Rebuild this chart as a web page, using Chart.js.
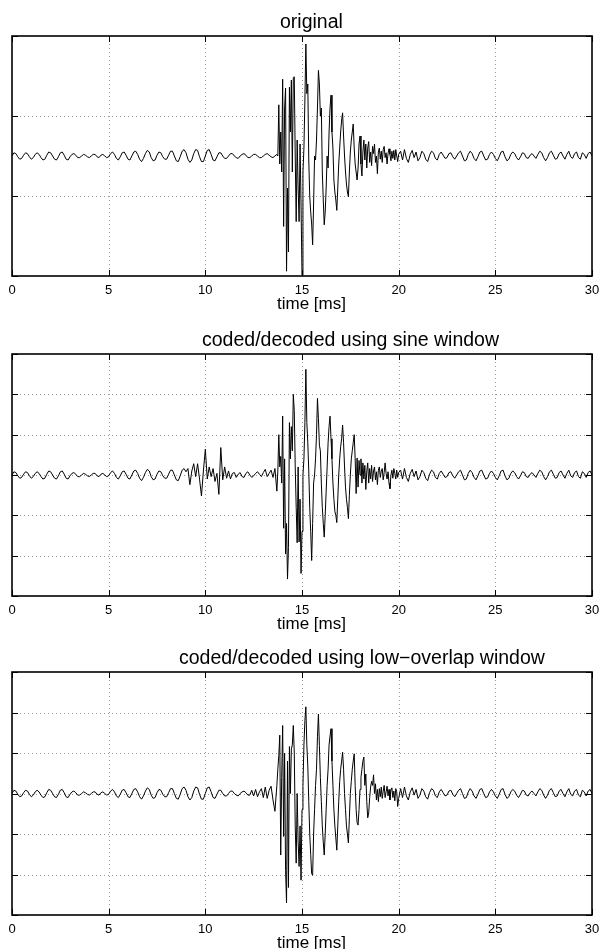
<!DOCTYPE html>
<html>
<head>
<meta charset="utf-8">
<script src="https://cdn.jsdelivr.net/npm/chart.js@4.4.0/dist/chart.umd.min.js"></script>
<style>
  body { margin: 0; background: #fff; }
  canvas { position: absolute; left: 0; }
</style>
</head>
<body>
<canvas id="c1" width="600" height="318" style="top:0px"></canvas>
<canvas id="c2" width="600" height="318" style="top:318px"></canvas>
<canvas id="c3" width="600" height="313" style="top:636px"></canvas>
<script>
/******************** data (time in ms, amplitude in arbitrary units) ********************/

var xTicks = [0, 5, 10, 15, 20, 25, 30];

// 0.0 .. 8.9 ms, step 0.1 (same in all three signals)
var headQuiet = [
  0, 4, 3, -1, -4, -3, 1, 4, 3, -1,
  -4, -2, 2, 4, 2, -2, -5, -4, 1, 5,
  4, 0, -4, -5, -1, 4, 5, 1, -4, -5,
  -1, 2, 3, 1, -2, -2, 0, 2, 1, -1,
  -2, 0, 2, 2, -1, -2, 1, 2, 0, -2,
  -1, 3, 5, 2, -3, -5, -1, 4, 5, 1,
  -4, -5, 0, 5, 6, 2, -4, -7, -3, 3,
  7, 5, -2, -6, -5, 1, 5, 4, -1, -4,
  -4, 1, 6, 6, 0, -6, -7, -1, 6, 8
];

// 9.0 .. 13.7 ms, step 0.1
var origMid = [
  4, -4, -8, -5, 3, 8, 7, -1, -7, -7,
  0, 7, 8, 2, -5, -6, -1, 4, 4, 0,
  -3, -3, 0, 3, 3, 0, -2, -3, 0, 2,
  3, 1, -2, -2, 0, 2, 2, 0, -2, -2,
  0, 2, 3, 1, -1, -2, 0, 2
];
var sineMid = [
  4, 8, -12, 5, 14, -2, 14, -5, -26, 5,
  32, -5, 10, -2, 8, -8, 2, -24, 34, -6,
  10, -4, 5, -5, 2, 3, -3, 1, 3, -2,
  -3, 2, 4, 0, -3, -1, 2, 4, 1, -2,
  3, 7, -2, 2, 6, -3, 8, -20
];
var lowMid = [
  4, -4, -8, -5, 3, 8, 7, -1, -7, -7,
  0, 7, 8, 2, -5, -6, -1, 4, 4, 0,
  -3, -3, 0, 3, 3, 0, -2, -3, 0, 2,
  3, 1, -2, -2, 4, -3, 5, -4, 2, 6,
  -5, 8, -6, 4, 9, -8, -22, 10
];

// 13.75 .. 20.00 ms, step 0.05
var origBurst = [
  0, 64, -10, 30, -20, 96, -88, 60, 85, -144,
  -40, -120, 86, 30, 95, -20, 98, 99, 0, -82,
  20, -40, -82, 15, -60, -149, -20, 10, 70, 140,
  78, 90, -5, -50, -70, -85, -111, -60, 0, -5,
  20, 60, 107, 90, 50, 60, -20, -55, -86, -70,
  -40, 0, -15, 30, 60, 76, 30, 10, -30, -45,
  -55, -68, -40, -10, 10, 30, 45, 54, 25, 0,
  -20, -35, -45, -51, -20, 5, 20, 30, 40, 10,
  -10, -20, -30, -15, 15, 25, -10, -25, 5, 20,
  -5, 15, -15, 10, 18, -8, 5, -12, 12, 3,
  15, -8, 0, -22, 5, 10, -4, 6, -8, 8,
  12, -2, 4, -10, 3, 9, 2, -6, 6, -3,
  7, -5, 8, 0, -7, 2
];
var sineBurst = [
  5, 50, 10, 23, -10, 73, -66, 20, -98, -60,
  -129, -90, 65, 20, 60, 30, 100, 80, 10, -40,
  -84, 10, -83, -30, -122, -70, 0, 20, 65, 131,
  65, 40, 5, -40, -70, -106, -60, -10, 0, 20,
  50, 95, 70, 37, 30, -10, -40, -60, -77, -50,
  -20, 10, 40, 60, 73, 45, 20, -10, -30, -45,
  -50, -59, -30, 0, 20, 35, 45, 62, 40, 10,
  -15, -30, -40, -54, -25, 0, 20, 30, 40, 50,
  20, -23, 21, -15, 18, 0, 20, -10, 15, -5,
  12, -18, 5, 15, -10, 8, -5, 12, -8, 5,
  10, -6, 4, -12, 6, 10, -3, 5, 8, -6,
  3, 15, 2, -5, 4, -10, -17, 0, 6, -4,
  8, 2, -5, 6, -3, 3
];
var lowBurst = [
  30, 47, 72, -76, 20, 84, -53, 50, -95, -135,
  40, -116, 58, 0, 55, 60, 84, 50, -40, -86,
  0, -60, -90, -40, -107, -20, 10, 60, 90, 107,
  60, 34, -10, -50, -75, -99, -101, -50, -20, 10,
  30, 70, 98, 59, 20, -10, -40, -60, -76, -50,
  -20, 10, 30, 60, 71, 80, 40, 10, -20, -40,
  -55, -70, -40, -10, 15, 30, 40, 51, 30, 0,
  -20, -40, -50, -61, -30, 0, 15, 30, 40, 49,
  10, -20, -36, -39, -20, 5, 20, 30, 40, 45,
  10, 24, -10, -30, -24, -5, 8, 15, 10, 23,
  0, 12, -8, 5, -10, 6, -4, 8, -6, 3,
  10, -5, 2, 9, -3, 5, -8, 4, 7, -5,
  3, -9, 6, 2, -16, -6
];

// 20.1 .. 30.0 ms, step 0.1 (same in all three signals)
var tailQuiet = [
  6, -5, 8, -3, -8, 2, 7, -2, 5, -6,
  -2, 6, 3, -4, -7, 1, 6, 4, -3, -5,
  2, 5, 1, -3, -2, 3, 4, -1, -4, 0,
  4, 6, 0, -6, -5, 2, 6, 3, -3, -6,
  -1, 5, 6, 0, -5, -4, 2, 5, 2, -3,
  -6, -1, 5, 6, -1, -6, -4, 2, 5, 3,
  -2, -5, -1, 4, 3, -2, -3, 1, 3, 0,
  -3, 2, 6, 4, -2, -6, -2, 4, 6, 1,
  -4, -3, 3, 5, 0, -4, 2, 6, -1, -3,
  3, 5, -2, -4, 4, 2, -3, 3, 5, 0
];

/******************** helpers ********************/

var FONT = '"Liberation Sans", Arial, Helvetica, sans-serif';

// join segments [startTime, step, values] into {x, y} points
function series(segs) {
  var pts = [];
  segs.forEach(function (s) {
    s[2].forEach(function (v, i) {
      pts.push({ x: +(s[0] + i * s[1]).toFixed(3), y: v });
    });
  });
  return pts;
}

// matlab style frame: dotted grid, black box, inward ticks, title and xlabel
var matlabAxes = {
  id: 'matlabAxes',
  beforeDatasetsDraw: function (chart) {
    var ctx = chart.ctx, a = chart.chartArea, x = chart.scales.x, y = chart.scales.y;
    ctx.save();
    ctx.strokeStyle = '#9a9a9a';
    ctx.lineWidth = 1;
    ctx.setLineDash([1, 3]);
    ctx.beginPath();
    x.ticks.forEach(function (t) {
      if (t.value <= x.min || t.value >= x.max) return;
      var px = Math.round(x.getPixelForValue(t.value)) + 0.5;
      ctx.moveTo(px, a.top); ctx.lineTo(px, a.bottom);
    });
    y.ticks.forEach(function (t) {
      if (t.value <= y.min || t.value >= y.max) return;
      var py = Math.round(y.getPixelForValue(t.value)) + 0.5;
      ctx.moveTo(a.left, py); ctx.lineTo(a.right, py);
    });
    ctx.stroke();
    ctx.restore();
  },
  afterDatasetsDraw: function (chart) {
    var ctx = chart.ctx, a = chart.chartArea, x = chart.scales.x, y = chart.scales.y;
    var tl = 6;
    ctx.save();
    ctx.strokeStyle = '#000';
    ctx.lineWidth = 1;
    ctx.beginPath();
    x.ticks.forEach(function (t) {
      var px = Math.round(x.getPixelForValue(t.value)) + 0.5;
      ctx.moveTo(px, a.bottom); ctx.lineTo(px, a.bottom - tl);
      ctx.moveTo(px, a.top); ctx.lineTo(px, a.top + tl);
    });
    y.ticks.forEach(function (t) {
      var py = Math.round(y.getPixelForValue(t.value)) + 0.5;
      ctx.moveTo(a.left, py); ctx.lineTo(a.left + tl, py);
      ctx.moveTo(a.right, py); ctx.lineTo(a.right - tl, py);
    });
    ctx.stroke();
    ctx.lineWidth = 1.6;
    ctx.strokeRect(a.left, a.top, a.right - a.left, a.bottom - a.top);
    ctx.restore();
  },
  afterDraw: function (chart, args, o) {
    var ctx = chart.ctx, a = chart.chartArea;
    ctx.save();
    ctx.fillStyle = '#000';
    ctx.textAlign = 'left';
    ctx.textBaseline = 'alphabetic';
    ctx.font = '19.5px ' + FONT;
    ctx.fillText(o.title, o.titleX, a.top - 8);
    ctx.font = '17px ' + FONT;
    ctx.fillText('time [ms]', 277, a.bottom + 33);
    ctx.restore();
  }
};

function makeChart(id, data, yStep, axisHeight, title, titleX) {
  return new Chart(id, {
    type: 'line',
    data: {
      datasets: [{
        data: data,
        borderColor: '#000',
        borderWidth: 1,
        pointRadius: 0,
        tension: 0,
        fill: false
      }]
    },
    plugins: [matlabAxes],
    options: {
      responsive: false,
      animation: false,
      events: [],
      layout: { padding: { left: 12, right: 8, top: 36, bottom: 0 } },
      scales: {
        x: {
          type: 'linear', min: 0, max: 30,
          afterBuildTicks: function (s) { s.ticks = xTicks.map(function (v) { return { value: v }; }); },
          ticks: { color: '#000', font: { size: 13, family: FONT }, padding: 7, maxRotation: 0, autoSkip: false },
          grid: { display: false, drawTicks: false },
          border: { display: false },
          afterFit: function (s) { s.height = axisHeight; s.paddingLeft = 0; s.paddingRight = 0; }
        },
        y: {
          type: 'linear', min: -150, max: 150,
          ticks: { display: false, stepSize: yStep },
          grid: { display: false, drawTicks: false },
          border: { display: false },
          afterFit: function (s) { s.width = 0; s.paddingTop = 0; s.paddingBottom = 0; }
        }
      },
      plugins: {
        legend: { display: false },
        tooltip: { enabled: false },
        matlabAxes: { title: title, titleX: titleX }
      }
    }
  });
}

makeChart('c1', series([[0, 0.1, headQuiet], [9, 0.1, origMid], [13.75, 0.05, origBurst], [20.1, 0.1, tailQuiet]]),
  100, 42, 'original', 280);
makeChart('c2', series([[0, 0.1, headQuiet], [9, 0.1, sineMid], [13.75, 0.05, sineBurst], [20.1, 0.1, tailQuiet]]),
  50, 40, 'coded/decoded using sine window', 202);
makeChart('c3', series([[0, 0.1, headQuiet], [9, 0.1, lowMid], [13.75, 0.05, lowBurst], [20.1, 0.1, tailQuiet]]),
  50, 34, 'coded/decoded using low\u2212overlap window', 179);
</script>
</body>
</html>
